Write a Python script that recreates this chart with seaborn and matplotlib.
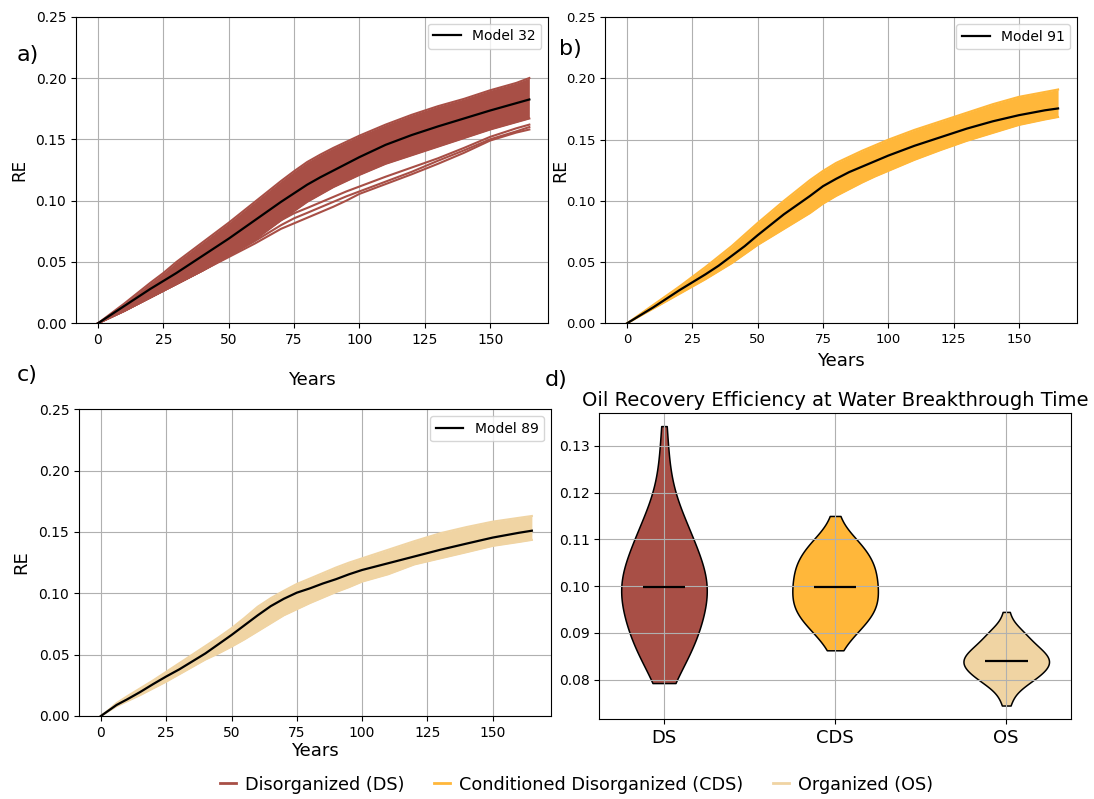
import numpy as np
import pandas as pd
import matplotlib
matplotlib.use("Agg")
import matplotlib.pyplot as plt
from matplotlib.lines import Line2D
import seaborn as sns

# ---------------- data ----------------
years_ab = [0, 5, 10, 15, 20, 25, 30, 35, 40, 45, 50, 55, 60, 65, 70, 75, 80, 85, 90, 95, 100,
            110, 120, 130, 140, 150, 160, 165]

ds_upper = [0, .008, .016, .0245, .033, .041, .050, .058, .066, .074, .082, .0905, .099, .1075, .116,
            .124, .1315, .1375, .143, .148, .153, .162, .170, .177, .183, .190, .196, .200]
ds_lower = [0, .005, .010, .0155, .021, .0265, .032, .0375, .043, .049, .055, .062, .069, .0765, .084,
            .0915, .099, .105, .111, .116, .121, .130, .137, .144, .151, .158, .164, .167]
ds_model = [0, .007, .014, .021, .028, .0345, .041, .048, .055, .062, .069, .0765, .084, .0915, .099,
            .106, .1130, .1190, .1245, .1300, .1355, .1455, .1535, .1605, .167, .1735, .1795, .1825]
ds_out1 = [0, .005, .010, .0155, .021, .0265, .032, .0375, .043, .049, .055, .0615, .068, .076, .084,
           .0897, .094, .0985, .103, .1075, .1115, .1195, .127, .1345, .143, .152, .159, .162]
ds_out2 = [0, .005, .010, .0155, .021, .0265, .032, .0375, .043, .049, .055, .061, .067, .0735, .080,
           .0856, .090, .0945, .099, .1035, .1075, .1155, .1235, .1325, .141, .150, .1565, .160]
ds_out3 = [0, .005, .010, .0155, .021, .0265, .032, .0375, .043, .0485, .054, .0595, .065, .071, .077,
           .0815, .086, .0905, .095, .100, .1055, .1135, .1215, .130, .139, .149, .1555, .158]

cds_upper = [0, .0075, .015, .0225, .030, .038, .046, .0545, .063, .0725, .082, .091, .100, .1085, .117,
             .1245, .131, .136, .141, .1455, .150, .158, .165, .172, .179, .185, .189, .191]
cds_lower = [0, .006, .012, .018, .024, .030, .036, .0425, .049, .0565, .064, .0705, .077, .0835, .090,
             .0977, .104, .1095, .115, .120, .1245, .1335, .1415, .149, .1555, .162, .1665, .1685]
cds_model = [0, .0065, .013, .020, .027, .0335, .040, .047, .055, .063, .072, .0805, .089, .0965, .104,
             .112, .118, .1235, .128, .1325, .137, .145, .152, .159, .165, .170, .174, .1755]

years_c = [0, 3, 6, 10, 15, 20, 25, 30, 35, 40, 45, 50, 55, 60, 65, 70, 75, 80, 85, 90, 95, 100,
           110, 120, 130, 140, 150, 160, 165]
os_upper = [0, .005, .0105, .016, .0225, .029, .036, .043, .050, .057, .064, .0715, .080, .089, .096,
            .102, .1076, .112, .1165, .121, .125, .1285, .1355, .1425, .149, .154, .1584, .1615, .163]
os_lower = [0, .004, .008, .012, .017, .0225, .028, .034, .040, .046, .051, .0565, .0625, .069, .0755,
            .082, .087, .092, .0965, .101, .105, .1095, .1155, .1235, .1285, .1335, .1386, .1418, .1435]
os_model = [0, .0045, .009, .0135, .0195, .026, .0322, .038, .0445, .051, .0585, .066, .074, .082, .0895,
            .0955, .1005, .104, .108, .1115, .1155, .119, .1245, .130, .1355, .1405, .1454, .1493, .151]

# RE at water breakthrough per model
re_ds = [0.0793, 0.0803, 0.0818, 0.0830, 0.0842, 0.0850, 0.0857, 0.0862, 0.0866, 0.0874,
         0.0882, 0.0886, 0.0890, 0.0897, 0.0903, 0.0909, 0.0915, 0.0920, 0.0925, 0.0930,
         0.0934, 0.0940, 0.0945, 0.0949, 0.0954, 0.0958, 0.0964, 0.0968, 0.0972, 0.0976,
         0.0980, 0.0984, 0.0990, 0.0994, 0.0998, 0.1001, 0.1005, 0.1009, 0.1015, 0.1019,
         0.1023, 0.1027, 0.1031, 0.1035, 0.1040, 0.1045, 0.1050, 0.1055, 0.1060, 0.1066,
         0.1072, 0.1078, 0.1084, 0.1091, 0.1097, 0.1103, 0.1109, 0.1117, 0.1125, 0.1133,
         0.1140, 0.1150, 0.1161, 0.1175, 0.1192, 0.1215, 0.1245, 0.1285, 0.1342]
re_cds = [0.0863, 0.0885, 0.0895, 0.0903, 0.0909, 0.0915, 0.0922, 0.0926, 0.0930, 0.0934,
          0.0938, 0.0942, 0.0946, 0.0950, 0.0954, 0.0958, 0.0962, 0.0965, 0.0969, 0.0972,
          0.0976, 0.0979, 0.0983, 0.0987, 0.0991, 0.0995, 0.0999, 0.1002, 0.1006, 0.1010,
          0.1014, 0.1018, 0.1022, 0.1026, 0.1030, 0.1034, 0.1038, 0.1041, 0.1045, 0.1049,
          0.1053, 0.1057, 0.1061, 0.1066, 0.1071, 0.1076, 0.1081, 0.1087, 0.1093, 0.1099,
          0.1104, 0.1112, 0.1150]
re_os = [0.0745, 0.0765, 0.0781, 0.0788, 0.0793, 0.0797, 0.0801, 0.0804, 0.0807, 0.0810,
         0.0813, 0.0817, 0.0820, 0.0822, 0.0824, 0.0827, 0.0829, 0.0831, 0.0833, 0.0836,
         0.0838, 0.0840, 0.0842, 0.0844, 0.0847, 0.0849, 0.0851, 0.0853, 0.0857, 0.0860,
         0.0862, 0.0864, 0.0867, 0.0870, 0.0873, 0.0877, 0.0884, 0.0888, 0.0893, 0.0898,
         0.0902, 0.0907, 0.0914, 0.0945]

groups = ["DS", "CDS", "OS"]
group_names = ["Disorganized (DS)", "Conditioned Disorganized (CDS)", "Organized (OS)"]
colors = ["#A84F46", "#FFB73A", "#F0D4A3"]

# ---------------- figure ----------------
fig = plt.figure(figsize=(10.94, 7.99), dpi=100)
ax_a = fig.add_axes([0.0695, 0.5954, 0.4318, 0.3837])
ax_b = fig.add_axes([0.5532, 0.5954, 0.4314, 0.3830])
ax_c = fig.add_axes([0.0722, 0.1039, 0.4314, 0.3839])
ax_d = fig.add_axes([0.5478, 0.1000, 0.4311, 0.3837])


def line_panel(ax, years, lower, upper, extra, model, color, label,
               ylab_size, ylab_pad, xlab_pad, tick_size):
    ax.fill_between(years, lower, upper, color=color, lw=0, zorder=2)
    runs = {"lower": lower, "upper": upper}
    for i, e in enumerate(extra):
        runs[f"out{i}"] = e
    df = pd.DataFrame([(r, x, y) for r, ys in runs.items() for x, y in zip(years, ys)],
                      columns=["run", "Years", "RE"])
    sns.lineplot(data=df, x="Years", y="RE", units="run", estimator=None,
                 color=color, lw=1.5, ax=ax, legend=False, zorder=2)
    sns.lineplot(x=years, y=model, color="black", lw=1.6, ax=ax, label=label, zorder=3)
    ax.set_xlim(-8.4, 172.3)
    ax.set_ylim(0, 0.25)
    ax.set_xticks([0, 25, 50, 75, 100, 125, 150])
    ax.set_yticks([0, 0.05, 0.10, 0.15, 0.20, 0.25])
    ax.set_yticklabels([f"{v:.2f}" for v in [0, 0.05, 0.10, 0.15, 0.20, 0.25]])
    ax.tick_params(labelsize=tick_size)
    ax.grid(True, color="#b0b0b0", lw=0.8)
    ax.set_xlabel("Years", fontsize=13, labelpad=xlab_pad)
    ax.set_ylabel("RE", fontsize=ylab_size, labelpad=ylab_pad)
    ax.legend(loc="upper right", fontsize=10)


line_panel(ax_a, years_ab, ds_lower, ds_upper, [ds_out1, ds_out2, ds_out3], ds_model,
           colors[0], "Model 32", 12, 5, 17, 10)
line_panel(ax_b, years_ab, cds_lower, cds_upper, [], cds_model,
           colors[1], "Model 91", 12.5, -2, 4, 9.5)
line_panel(ax_c, years_c, os_lower, os_upper, [], os_model,
           colors[2], "Model 89", 13, 6, 2, 10)

# violin panel
vdf = pd.DataFrame({
    "type": ["DS"] * len(re_ds) + ["CDS"] * len(re_cds) + ["OS"] * len(re_os),
    "RE": re_ds + re_cds + re_os,
})
sns.violinplot(data=vdf, x="type", y="RE", hue="type", order=groups, hue_order=groups,
               palette=colors, cut=0, inner=None, density_norm="width", width=0.5,
               linewidth=1.1, linecolor="black", saturation=1, legend=False, ax=ax_d)
for i, vals in enumerate([re_ds, re_cds, re_os]):
    ax_d.hlines(np.median(vals), i - 0.125, i + 0.125, color="black", lw=1.6, zorder=4)
ax_d.set_xlim(-0.378, 2.378)
ax_d.set_ylim(0.0716, 0.1371)
ax_d.set_yticks([0.08, 0.09, 0.10, 0.11, 0.12, 0.13])
ax_d.set_yticklabels([f"{v:.2f}" for v in [0.08, 0.09, 0.10, 0.11, 0.12, 0.13]])
ax_d.tick_params(axis="x", labelsize=13)
ax_d.tick_params(axis="y", labelsize=10)
ax_d.grid(True, color="#b0b0b0", lw=0.8)
ax_d.set_xlabel("")
ax_d.set_ylabel("")
ax_d.set_title("Oil Recovery Efficiency at Water Breakthrough Time", fontsize=14, pad=5)

# panel letters
fig.text(17 / 1094, 1 - 55 / 799, "a)", fontsize=16, va="center", ha="left")
fig.text(559 / 1094, 1 - 49 / 799, "b)", fontsize=16, va="center", ha="left")
fig.text(17 / 1094, 1 - 375 / 799, "c)", fontsize=16, va="center", ha="left")
fig.text(545 / 1094, 1 - 380 / 799, "d)", fontsize=16, va="center", ha="left")

# shared legend
handles = [Line2D([0], [0], color=c, lw=2) for c in colors]
fig.legend(handles, group_names, loc="center", bbox_to_anchor=(0.527, 0.018), ncol=3,
           frameon=False, fontsize=12.7, handlelength=0.9, handletextpad=0.5,
           columnspacing=1.7)

fig.savefig("out.png", dpi=100)
